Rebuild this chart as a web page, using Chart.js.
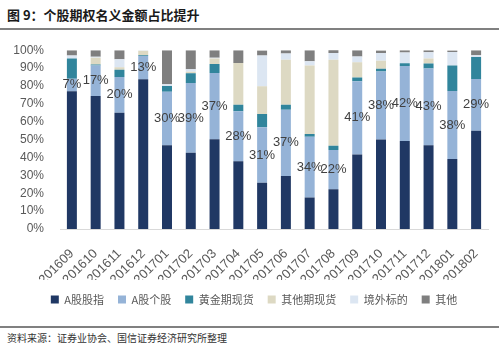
<!DOCTYPE html>
<html>
<head>
<meta charset="utf-8">
<script src="https://cdn.jsdelivr.net/npm/chart.js@4/dist/chart.umd.min.js"></script>
<style>
  html, body { margin: 0; padding: 0; background: #fff; }
  body { width: 499px; height: 350px; position: relative; overflow: hidden; font-family: "Noto Sans CJK SC", sans-serif; }
  #title { position: absolute; left: 7px; top: 5px; font-size: 13px; font-weight: bold; color: #1a1a1a; line-height: 20px; white-space: nowrap; }
  #topline { position: absolute; left: 0; top: 28px; width: 499px; height: 2px; background: #808080; }
  #botline { position: absolute; left: 0; top: 326px; width: 499px; height: 2px; background: #808080; }
  #source { position: absolute; left: 7px; top: 331px; font-size: 10px; color: #333; line-height: 14px; white-space: nowrap; }
  #wrap { position: absolute; left: 0; top: 35px; width: 499px; height: 280px; }
</style>
</head>
<body>
<div id="title">图 9：个股期权名义金额占比提升</div>
<div id="topline"></div>
<div id="wrap"><canvas id="c" width="499" height="280"></canvas></div>
<div id="botline"></div>
<div id="source">资料来源：证券业协会、国信证券经济研究所整理</div>
<script>
const categories = ["201609","201610","201611","201612","201701","201702","201703","201704","201705","201706","201707","201708","201709","201710","201711","201712","201801","201802"];
const seriesNames = ["A股股指","A股个股","黄金期现货","其他期现货","境外标的","其他"];
const indexValues   = [77.1, 74.4, 65.0, 83.7, 46.8, 42.6, 50.2, 37.9, 25.9, 29.7, 17.6, 22.2, 41.7, 50.1, 49.2, 46.8, 39.2, 54.9];
const stockValues   = [7, 17, 20, 13, 30, 39, 37, 28, 31, 37, 34, 22, 41, 38, 42, 43, 38, 29];
const goldValues    = [11.2, 0.6, 4.0, 0.5, 3.2, 5.5, 5.1, 3.6, 7.4, 2.8, 1.5, 2.3, 2.1, 1.5, 1.5, 2.7, 14.2, 12.3];
const otherFutValues= [0, 3.8, 1.5, 2.5, 0, 0.8, 3.0, 23.3, 15.5, 25.2, 38.4, 48.2, 8.5, 4.5, 0, 2.8, 0, 0];
const overseaValues = [1.7, 0.5, 4.5, 0.3, 1.0, 1.5, 0.5, 0, 17.2, 3.4, 2.3, 3.8, 3.2, 4.4, 6.0, 3.6, 7.6, 1.0];
const otherValues   = [3.0, 3.7, 5.0, 0, 19.0, 10.6, 4.2, 7.2, 2.8, 1.9, 6.2, 2.5, 3.5, 1.4, 1.3, 1.1, 0.9, 2.8];
const colors = ["#203864", "#95b3d7", "#31859c", "#ddd9c3", "#dce6f2", "#7f7f7f"];

const allValues = [indexValues, stockValues, goldValues, otherFutValues, overseaValues, otherValues];

const labelPlugin = {
  id: 'segLabels',
  afterLayout(chart) {
    const lg = chart.legend;
    if (lg) { lg.left += 10; lg.right += 10; }
  },
  afterDatasetsDraw(chart) {
    const ctx = chart.ctx;
    const meta = chart.getDatasetMeta(1);
    ctx.save();
    ctx.font = '13px "Liberation Sans", Arial, sans-serif';
    ctx.fillStyle = '#404040';
    ctx.textAlign = 'center';
    ctx.textBaseline = 'middle';
    meta.data.forEach((el, i) => {
      const v = chart.data.datasets[1].data[i];
      ctx.fillText(Math.round(v) + '%', el.x, (el.y + el.base) / 2);
    });
    ctx.restore();
  }
};

new Chart(document.getElementById('c'), {
  type: 'bar',
  data: {
    labels: categories,
    datasets: seriesNames.map((n, k) => ({
      label: n,
      data: allValues[k],
      backgroundColor: colors[k],
      borderWidth: 0,
      barPercentage: 0.42,
      categoryPercentage: 1.0
    }))
  },
  options: {
    responsive: false,
    animation: false,
    layout: { padding: { top: 10, right: 11, left: 0, bottom: 0 } },
    scales: {
      x: {
        stacked: true,
        grid: { display: false },
        border: { color: '#d9d9d9' },
        ticks: { color: '#595959', font: { size: 13, family: '"Liberation Sans", Arial, sans-serif' }, minRotation: 45, maxRotation: 45, autoSkip: false, padding: 9 },
        afterFit(s) { s.height = 51; }
      },
      y: {
        stacked: true,
        min: 0, max: 100,
        grid: { display: false },
        border: { display: false },
        ticks: { stepSize: 10, color: '#595959', font: { size: 12, family: '"Liberation Sans", Arial, sans-serif' }, padding: 8, callback: v => v + '%' },
        afterFit(s) { s.width = 60; }
      }
    },
    plugins: {
      legend: {
        position: 'bottom',
        labels: { boxWidth: 8, boxHeight: 8, padding: 14, color: '#595959', font: { size: 11, family: '"Noto Sans CJK SC", sans-serif' } }
      },
      tooltip: { enabled: false }
    }
  },
  plugins: [labelPlugin]
});
</script>
</body>
</html>
